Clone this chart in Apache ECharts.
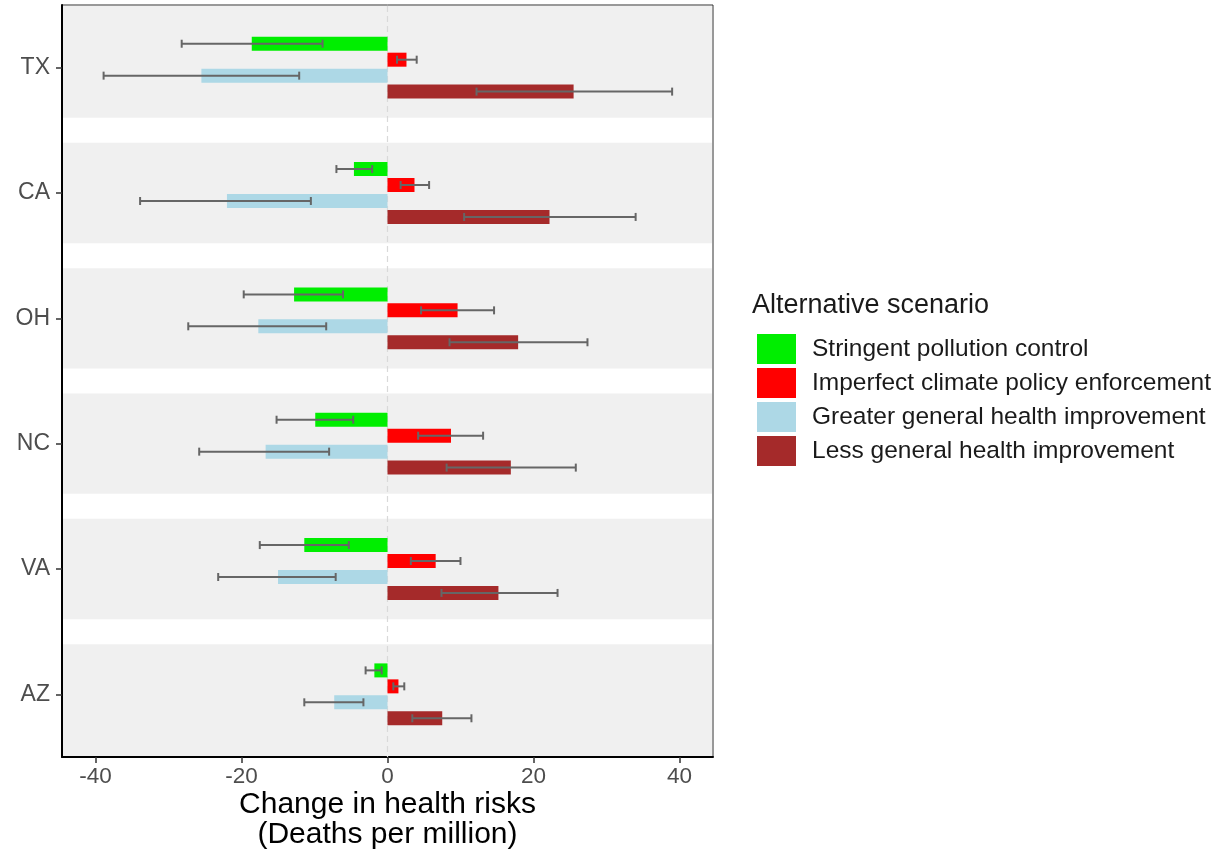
<!DOCTYPE html>
<html>
<head>
<meta charset="utf-8">
<script src="https://cdn.jsdelivr.net/npm/echarts@6/dist/echarts.min.js"></script>
<style>
  html, body { margin: 0; padding: 0; background: #fff; }
  #chart { width: 1221px; height: 854px; }
</style>
</head>
<body>
<div id="chart"></div>
<script>
// states, top to bottom
let states = ['TX', 'CA', 'OH', 'NC', 'VA', 'AZ']
let scenarios = ['Stringent pollution control', 'Imperfect climate policy enforcement', 'Greater general health improvement', 'Less general health improvement']
let xTicks = [-40, -20, 0, 20, 40]

// bar values and error bar ends (deaths per million)
let stringent = [-18.6, -4.6, -12.8, -9.9, -11.4, -1.8]
let stringentLow = [-28.2, -7.0, -19.7, -15.2, -17.5, -3.0]
let stringentHigh = [-8.9, -2.1, -6.1, -4.7, -5.3, -0.8]
let imperfect = [2.6, 3.7, 9.6, 8.7, 6.6, 1.5]
let imperfectLow = [1.3, 1.8, 4.6, 4.2, 3.2, 0.8]
let imperfectHigh = [4.0, 5.7, 14.6, 13.1, 10.0, 2.3]
let greater = [-25.5, -22.0, -17.7, -16.7, -15.0, -7.3]
let greaterLow = [-38.9, -33.9, -27.3, -25.8, -23.2, -11.4]
let greaterHigh = [-12.1, -10.5, -8.4, -8.0, -7.1, -3.3]
let less = [25.5, 22.2, 17.9, 16.9, 15.2, 7.5]
let lessLow = [12.2, 10.5, 8.5, 8.1, 7.4, 3.4]
let lessHigh = [39.0, 34.0, 27.4, 25.8, 23.3, 11.5]

let colors = ['#00ee00', '#ff0000', '#add8e6', '#a52a2a']
let values = [stringent, imperfect, greater, less]
let lows = [stringentLow, imperfectLow, greaterLow, lessLow]
let highs = [stringentHigh, imperfectHigh, greaterHigh, lessHigh]

let barW = 14
let barGapRatio = 0.14
let font = 'Liberation Sans, Arial, Helvetica, sans-serif'

// offset of bar j inside a group, same rule the bar layout uses
function barOffset(j) {
  let n = values.length
  let total = n * barW * (1 + barGapRatio) - barW * barGapRatio
  return -total / 2 + j * barW * (1 + barGapRatio) + barW / 2
}

let myChart = echarts.init(document.getElementById('chart'))

let series = []

// grey bands behind each state + dashed zero line
series.push({
  type: 'custom',
  silent: true,
  z: 0,
  data: states.map((s, i) => [0, i]),
  renderItem: function (params, api) {
    let cs = params.coordSys
    let i = api.value(1)
    let c = api.coord([0, i])
    let band = api.size([0, 1])[1]
    let top = c[1] - band * 0.4
    let bottom = c[1] + band * 0.4
    if (i === 0) top = cs.y + 1
    if (i === states.length - 1) bottom = cs.y + cs.height
    let children = [{
      type: 'rect',
      shape: { x: cs.x + 1, y: top, width: cs.width - 2, height: bottom - top },
      style: { fill: '#f0f0f0' }
    }]
    if (i === 0) {
      children.push({
        type: 'line',
        z2: 5,
        shape: { x1: c[0], y1: cs.y + 1, x2: c[0], y2: cs.y + cs.height },
        style: { stroke: '#d9d9d9', lineWidth: 1.2, lineDash: [6, 4] }
      })
    }
    return { type: 'group', children: children }
  }
})

scenarios.forEach((name, j) => {
  series.push({
    name: name,
    type: 'bar',
    z: 2,
    barWidth: barW,
    barGap: (barGapRatio * 100) + '%',
    itemStyle: { color: colors[j] },
    data: values[j]
  })
})

// error bars
scenarios.forEach((name, j) => {
  series.push({
    type: 'custom',
    silent: true,
    z: 3,
    data: states.map((s, i) => [i, lows[j][i], highs[j][i]]),
    renderItem: function (params, api) {
      let i = api.value(0)
      let p1 = api.coord([api.value(1), i])
      let p2 = api.coord([api.value(2), i])
      let y = p1[1] + barOffset(j)
      let h = 4
      let st = { stroke: '#666666', lineWidth: 2 }
      return {
        type: 'group',
        children: [
          { type: 'line', shape: { x1: p1[0], y1: y, x2: p2[0], y2: y }, style: st },
          { type: 'line', shape: { x1: p1[0], y1: y - h, x2: p1[0], y2: y + h }, style: st },
          { type: 'line', shape: { x1: p2[0], y1: y - h, x2: p2[0], y2: y + h }, style: st }
        ]
      }
    }
  })
})

let option = {
  animation: false,
  title: {
    text: 'Alternative scenario',
    left: 752,
    top: 292,
    padding: 0,
    textStyle: { fontFamily: font, fontSize: 27, fontWeight: 'normal', color: '#1a1a1a' }
  },
  legend: {
    data: scenarios,
    orient: 'vertical',
    left: 757,
    top: 334,
    padding: 0,
    icon: 'rect',
    itemWidth: 39,
    itemHeight: 30,
    itemGap: 4,
    selectedMode: false,
    textStyle: { fontFamily: font, fontSize: 24.5, color: '#1a1a1a', padding: [2, 0, 0, 11] }
  },
  grid: {
    left: 62,
    top: 5,
    width: 651,
    height: 752,
    outerBoundsMode: 'none',
    containLabel: false,
    show: true,
    borderColor: '#333',
    borderWidth: 1,
    backgroundColor: '#fff'
  },
  xAxis: {
    type: 'value',
    min: -44.6,
    max: 44.6,
    name: 'Change in health risks\n(Deaths per million)',
    nameLocation: 'middle',
    nameGap: 33,
    nameMoveOverlap: false,
    nameTextStyle: { fontFamily: font, fontSize: 30, color: '#000', lineHeight: 30 },
    axisLine: { show: true, onZero: false, lineStyle: { color: '#000', width: 2 } },
    axisTick: { show: true, length: 6, customValues: xTicks, lineStyle: { color: '#333', width: 1.5 } },
    axisLabel: { customValues: xTicks, fontFamily: font, fontSize: 22.5, color: '#4d4d4d', margin: 8 },
    splitLine: { show: false }
  },
  yAxis: {
    type: 'category',
    data: states,
    inverse: true,
    axisLine: { show: true, onZero: false, lineStyle: { color: '#000', width: 2 } },
    axisTick: { show: true, length: 6, alignWithLabel: true, lineStyle: { color: '#333', width: 1.5 } },
    axisLabel: { fontFamily: font, fontSize: 23, color: '#4d4d4d', margin: 12 },
    splitLine: { show: false }
  },
  series: series
}

myChart.setOption(option)
</script>
</body>
</html>
